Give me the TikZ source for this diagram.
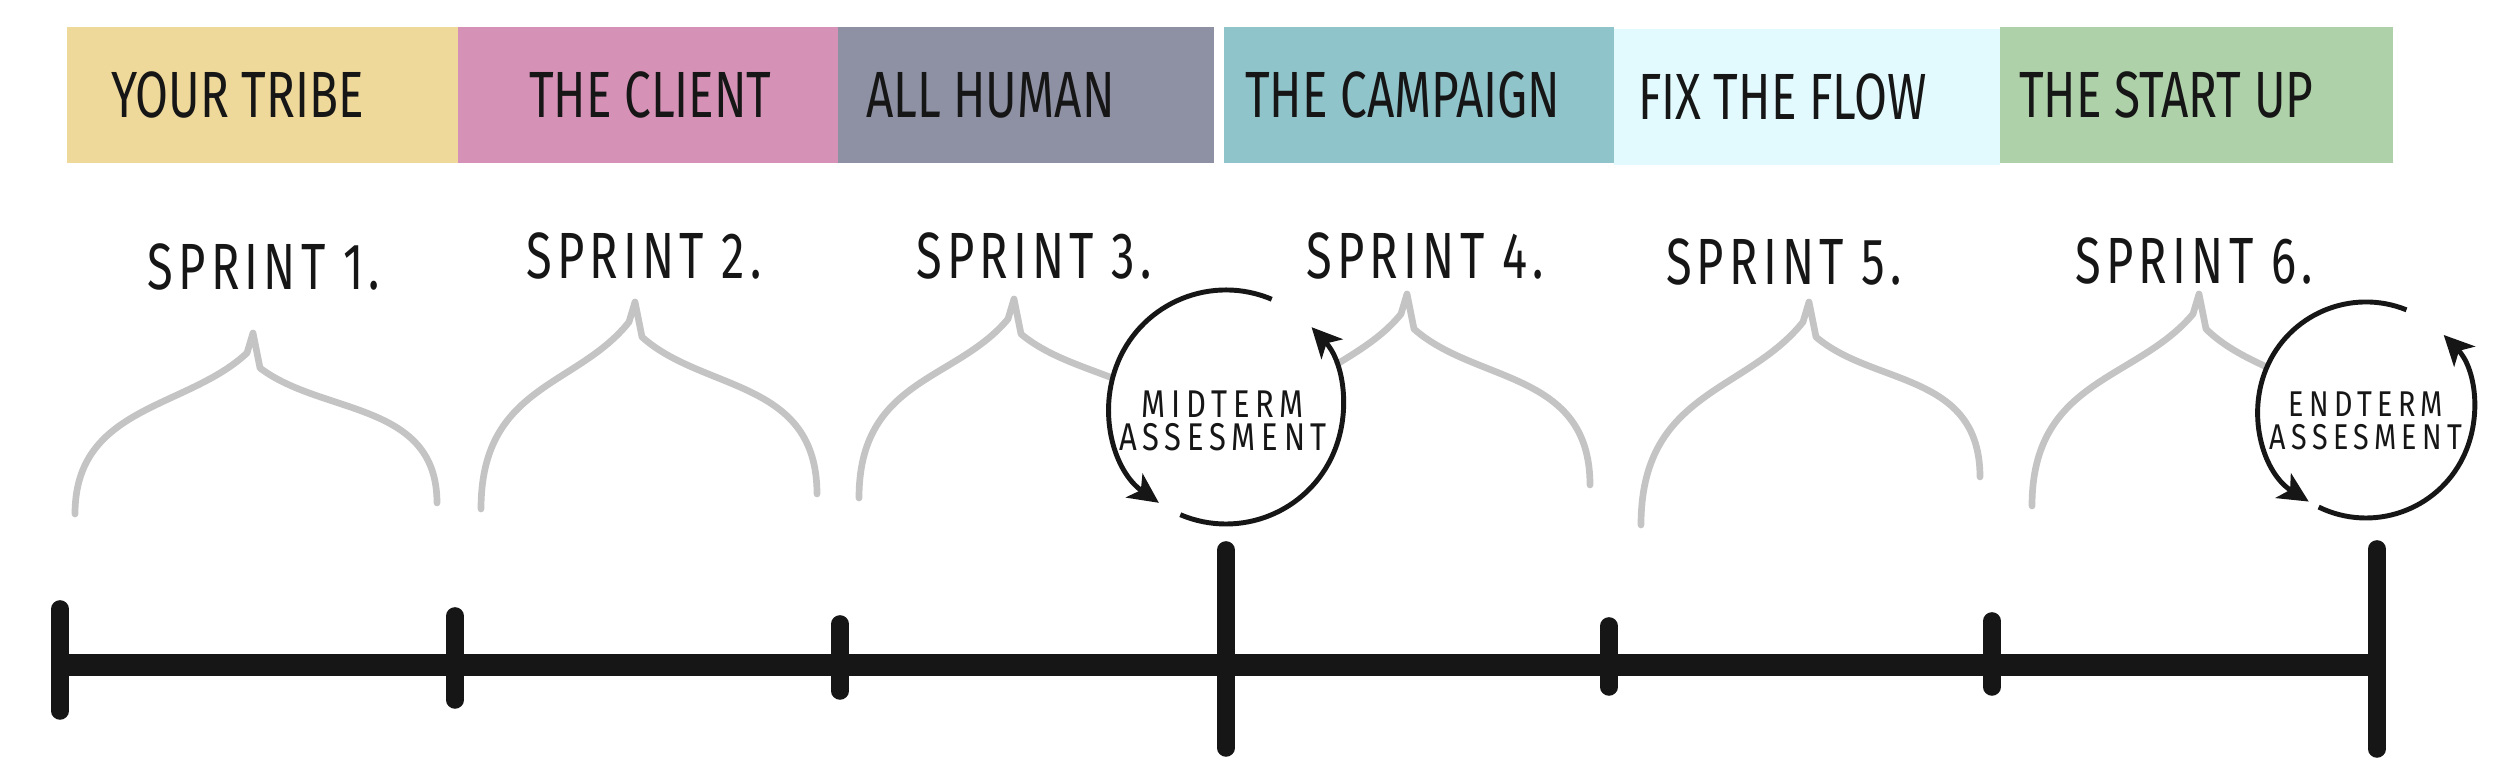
\documentclass[tikz,border=0pt]{standalone}
\usepackage{fontspec}
\newfontfamily\handfont{Fira Sans}[FakeStretch=0.73]
\newfontfamily\handspaced{Fira Sans}[FakeStretch=0.72,LetterSpace=8]
\newfontfamily\handwide{Fira Sans}[FakeStretch=0.8,LetterSpace=15]
\usetikzlibrary{arrows.meta,positioning,calc}

\definecolor{tribeyellow}{HTML}{EED89A}
\definecolor{clientpink}{HTML}{D591B6}
\definecolor{humangray}{HTML}{8E90A3}
\definecolor{campaignteal}{HTML}{8FC4CB}
\definecolor{flowcyan}{HTML}{E2FAFE}
\definecolor{startgreen}{HTML}{AED1A9}
\definecolor{inkblack}{HTML}{161616}
\definecolor{bracegray}{HTML}{C4C4C4}

% curly bracket over one sprint: name, left foot, peak, right foot
\newcommand{\sprintbrace}[4]{%
  \coordinate (#1l) at (#2); \coordinate (#1p) at (#3); \coordinate (#1r) at (#4);
  \coordinate (#1pl) at ($(#1p)+(-0.06,-0.2)$); \coordinate (#1pr) at ($(#1p)+(0.07,-0.35)$);
  \draw[brace] (#1l) .. controls ($(#1l)!0.6!(#1l|-#1p)$) and ($(#1pl)!0.35!(#1l)$) .. (#1pl)
    -- (#1p) -- (#1pr) .. controls ($(#1pr)!0.35!(#1r)$) and ($(#1r)!0.6!(#1r|-#1p)$) .. (#1r);}

\begin{document}
\begin{tikzpicture}[
  x=1cm,y=1cm,
  theme/.style={rectangle, minimum height=1.36cm, inner sep=0pt, draw=none},
  themetext/.style={anchor=west, inner sep=0pt, font=\handfont\fontsize{18.6}{20}\selectfont, text=inkblack},
  sprint/.style={inner sep=0pt, font=\handspaced\fontsize{18.6}{20}\selectfont, text=inkblack},
  brace/.style={draw=bracegray, line width=1.9pt, line cap=round, line join=round},
  assess/.style={circle, fill=white, draw=none, inner sep=0pt, outer sep=0pt},
  assesstext/.style={align=center, inner sep=0pt, font=\handwide\fontsize{11}{9.6}\selectfont, text=inkblack},
  cyclearrow/.style={-{Stealth[length=3mm,width=2.9mm,inset=0.8mm]}, line width=1.4pt, draw=inkblack},
  timeline/.style={line width=6.5pt, draw=inkblack},
  tickmark/.style={line width=5pt, draw=inkblack, line cap=round}
]
\fill[white] (0,0) rectangle (24.93,7.69);
\useasboundingbox (0,0) rectangle (24.93,7.69);

% themes
\node[theme, fill=tribeyellow, minimum width=3.91cm] (tribe) at (2.625,6.74) {};
\node[theme, fill=clientpink, minimum width=3.80cm] (client) at (6.48,6.74) {};
\node[theme, fill=humangray, minimum width=3.76cm] (human) at (10.26,6.74) {};
\node[theme, fill=campaignteal, minimum width=3.90cm] (campaign) at (14.19,6.74) {};
\node[theme, fill=flowcyan, minimum width=3.86cm] (flow) at (18.07,6.72) {};
\node[theme, fill=startgreen, minimum width=3.93cm] (startup) at (21.965,6.74) {};
\node[themetext, right=0.44cm of tribe.west] (tribetxt) {YOUR TRIBE};
\node[themetext, right=0.71cm of client.west] (clienttxt) {THE CLIENT};
\node[themetext, right=0.28cm of human.west] (humantxt) {ALL HUMAN};
\node[themetext, right=0.21cm of campaign.west] (campaigntxt) {THE CAMPAIGN};
\node[themetext, right=0.24cm of flow.west] (flowtxt) {FIX THE FLOW};
\node[themetext, right=0.19cm of startup.west] (startuptxt) {THE START UP};

% sprints
\node[sprint] (sprint1) at (2.64,5.02) {SPRINT 1.};
\node[sprint] (sprint2) at (6.44,5.13) {SPRINT 2.};
\node[sprint] (sprint3) at (10.34,5.13) {SPRINT 3.};
\node[sprint] (sprint4) at (14.25,5.13) {SPRINT 4.};
\node[sprint] (sprint5) at (17.84,5.07) {SPRINT 5.};
\node[sprint] (sprint6) at (21.94,5.08) {SPRINT 6.};
\sprintbrace{b1}{0.75,2.55}{2.53,4.36}{4.37,2.66}
\sprintbrace{b2}{4.81,2.60}{6.35,4.67}{8.17,2.75}
\sprintbrace{b3}{8.59,2.71}{10.14,4.70}{12.00,2.85}
\sprintbrace{b4}{12.55,2.75}{14.07,4.75}{15.90,2.84}
\sprintbrace{b5}{16.41,2.44}{18.09,4.67}{19.80,2.92}
\sprintbrace{b6}{20.32,2.63}{21.99,4.75}{23.80,2.70}

% assessments
\node[assess, minimum size=2.34cm] (midterm) at (12.26,3.62) {};
\node[assesstext] (midtermtxt) at (12.23,3.48) {MIDTERM\\ASSESMENT};
\draw[cyclearrow] (midterm.67) arc[start angle=67, end angle=235, radius=1.17cm];
\draw[cyclearrow] (midterm.247) arc[start angle=247, end angle=403, radius=1.17cm];
\node[assess, minimum size=2.16cm] (endterm) at (23.66,3.59) {};
\node[assesstext, font=\handwide\fontsize{10.2}{9.6}\selectfont] (endtermtxt) at (23.66,3.48) {ENDTERM\\ASSESMENT};
\draw[cyclearrow] (endterm.68) arc[start angle=68, end angle=238, radius=1.08cm];
\draw[cyclearrow] (endterm.244) arc[start angle=244, end angle=404, radius=1.08cm];

% timeline
\foreach \i/\x/\top/\bot in {0/0.60/1.60/0.58, 1/4.55/1.53/0.69, 2/8.40/1.45/0.78, 3/12.26/2.19/0.21, 4/16.09/1.43/0.82, 5/19.92/1.48/0.82, 6/23.77/2.20/0.20}{
  \coordinate (tick\i) at (\x,1.04);
  \draw[tickmark] (\x,\top) -- (\x,\bot);}
\draw[timeline] (tick0) -- (tick6);
\end{tikzpicture}
\end{document}
